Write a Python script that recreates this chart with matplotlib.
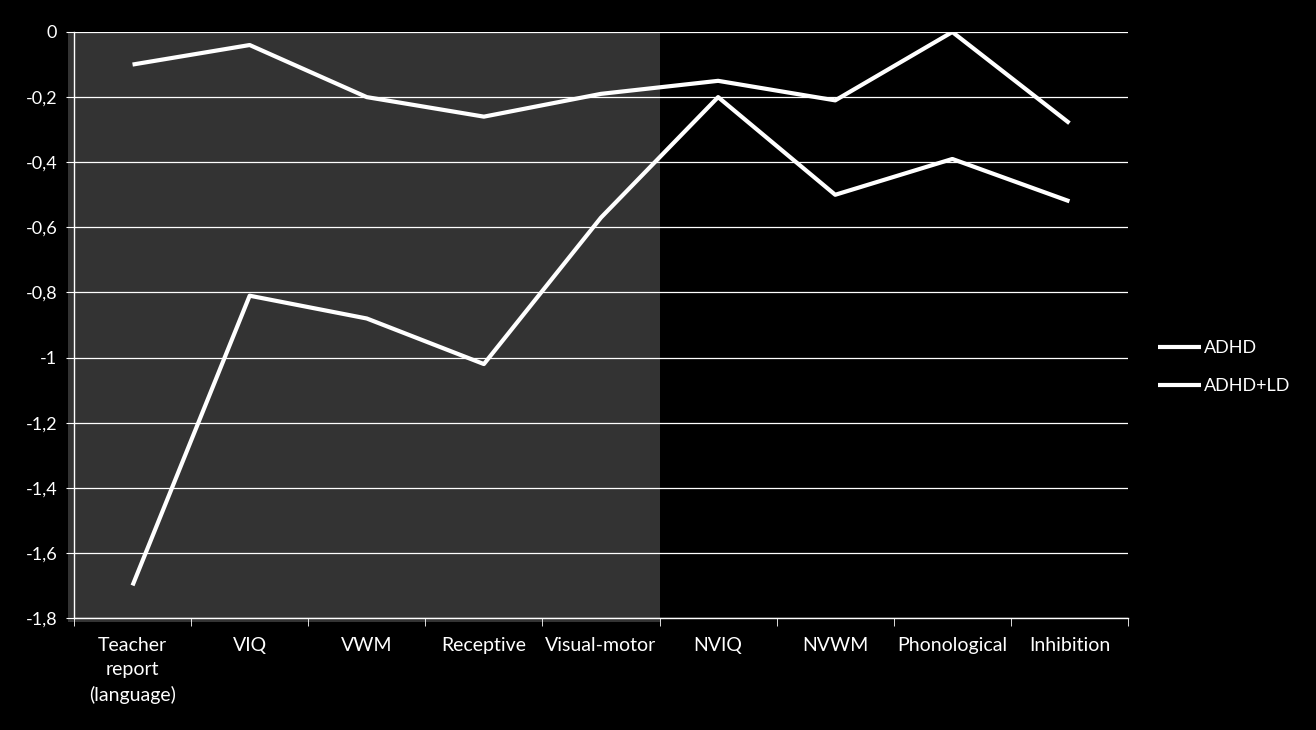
import matplotlib.pyplot as plt
from matplotlib.patches import Rectangle
from matplotlib.ticker import FuncFormatter

categories = ["Teacher\nreport\n(language)", "VIQ", "VWM", "Receptive", "Visual-motor",
              "NVIQ", "NVWM", "Phonological", "Inhibition"]
adhd = [-0.10, -0.04, -0.20, -0.26, -0.19, -0.15, -0.21, 0.0, -0.28]
adhd_ld = [-1.70, -0.81, -0.88, -1.02, -0.57, -0.20, -0.50, -0.39, -0.52]

plt.rcParams['font.family'] = ['Lato', 'DejaVu Sans']

fig = plt.figure(figsize=(13.16, 7.30), dpi=100, facecolor='black')
ax = fig.add_axes([74 / 1316, 1 - 618 / 730, (1128 - 74) / 1316, (618 - 32) / 730])
ax.set_facecolor('none')

x = list(range(len(categories)))

# grey panel behind the verbal measures
ax.add_patch(Rectangle((-0.55, -1.812), 5.05, 1.812, facecolor='#333333',
                       edgecolor='none', zorder=0, clip_on=False))

ax.plot(x, adhd, color='white', lw=3, label='ADHD', zorder=3, solid_capstyle='butt')
ax.plot(x, adhd_ld, color='white', lw=3, label='ADHD+LD', zorder=3, solid_capstyle='butt')

ax.set_xlim(-0.5, len(categories) - 0.5)
ax.set_ylim(-1.8, 0)
ax.set_yticks([-1.8 + 0.2 * i for i in range(10)])
ax.yaxis.set_major_formatter(FuncFormatter(
    lambda v, p: ('%g' % round(v, 1)).replace('.', ',')))
ax.grid(axis='y', color='white', lw=0.9, zorder=1)

ax.set_xticks(x)
ax.set_xticklabels(categories, linespacing=1.5)
ax.set_xticks([i - 0.5 for i in range(len(categories) + 1)], minor=True)
ax.tick_params(axis='x', which='major', length=0, pad=14, colors='white', labelsize=14)
ax.tick_params(axis='x', which='minor', length=6, color='white', direction='out')
ax.tick_params(axis='y', length=6, color='white', labelcolor='white', labelsize=13, pad=6)

for s in ['top', 'right']:
    ax.spines[s].set_visible(False)
for s in ['left', 'bottom']:
    ax.spines[s].set_color('white')
    ax.spines[s].set_linewidth(1)

leg = ax.legend(loc='center left', bbox_to_anchor=(1.013, 0.428), frameon=False,
                fontsize=13, labelcolor='white', handlelength=2.4, handletextpad=0.15,
                labelspacing=1.25)

fig.savefig('out.png', dpi=100, facecolor='black')
